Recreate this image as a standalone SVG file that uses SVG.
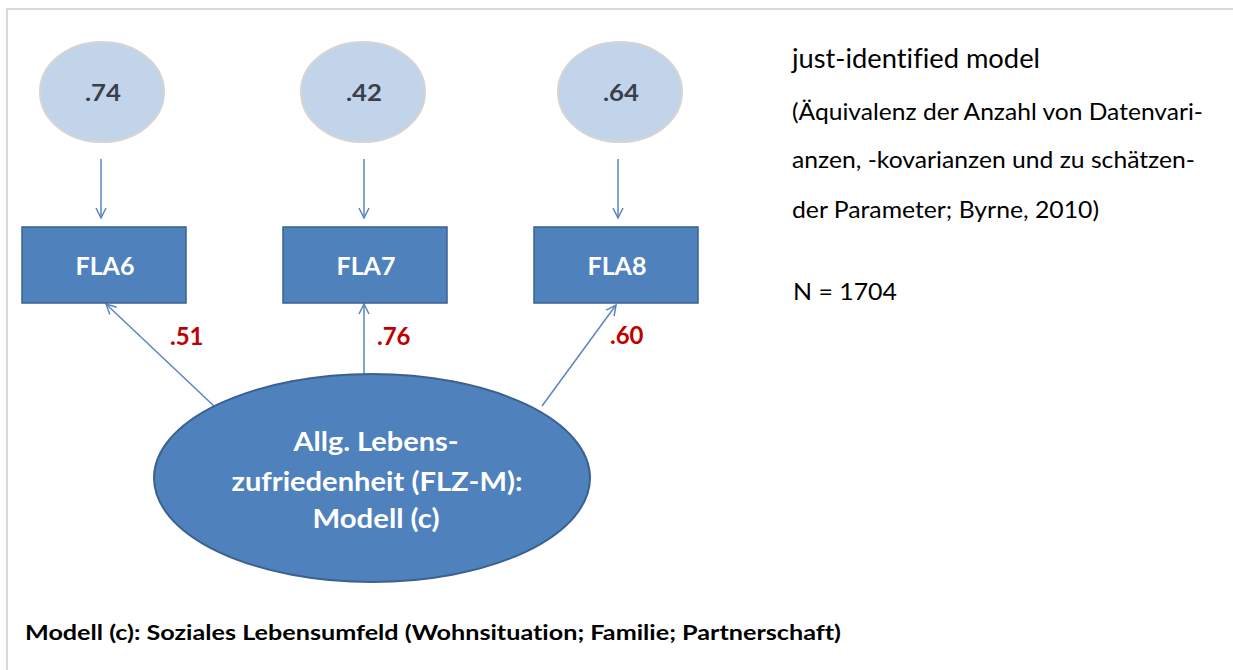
<svg xmlns="http://www.w3.org/2000/svg" width="1233" height="670" viewBox="0 0 1233 670">
  <style>
    text { font-variant-ligatures: none; }
    .err { fill: #c2d4ea; stroke: #d4d4d4; stroke-width: 2; }
    .errtxt { font-family: Lato, "Open Sans", sans-serif; font-weight: bold; font-size: 23px; fill: #3a3f4a; text-anchor: middle; }
    .box { fill: #4f81bd; stroke: #3a6190; stroke-width: 1.5; }
    .boxtxt { font-family: Lato, "Open Sans", sans-serif; font-weight: bold; font-size: 25px; fill: #ffffff; text-anchor: middle; }
    .latent { fill: #4f81bd; stroke: #3a6190; stroke-width: 2; }
    .lattxt { font-family: Lato, "Open Sans", sans-serif; font-weight: bold; font-size: 26px; fill: #ffffff; text-anchor: middle; }
    .edge { stroke: #5a86bf; stroke-width: 1.5; fill: none; marker-end: url(#chev); }
    .load { font-family: Lato, "Open Sans", sans-serif; font-weight: bold; font-size: 24px; fill: #c00000; }
    .note { font-family: Lato, "Open Sans", sans-serif; font-size: 24px; fill: #000000; }
    .note1 { font-family: Lato, "Open Sans", sans-serif; font-size: 26px; fill: #000000; }
    .caption { font-family: Lato, "Open Sans", sans-serif; font-weight: bold; font-size: 21px; fill: #000000; }
  </style>
  <defs>
    <marker id="chev" viewBox="0 0 12 12" refX="11" refY="6" markerWidth="12" markerHeight="12" markerUnits="userSpaceOnUse" orient="auto">
      <path d="M1,1 L11,6 L1,11" fill="none" stroke="#5a86bf" stroke-width="1.5"/>
    </marker>
  </defs>

  <rect width="1233" height="670" fill="#ffffff"/>
  <!-- frame -->
  <path d="M7,672 L7,9 L1240,9" fill="none" stroke="#d9d9d9" stroke-width="2"/>

  <!-- connectors -->
  <g id="connectors">
    <line class="edge" x1="101" y1="159" x2="101" y2="218"/>
    <line class="edge" x1="364" y1="159" x2="364" y2="218"/>
    <line class="edge" x1="618" y1="159" x2="618" y2="218"/>
    <line class="edge" x1="215" y1="407" x2="106" y2="304"/>
    <line class="edge" x1="364" y1="374" x2="364" y2="304"/>
    <line class="edge" x1="542" y1="406" x2="616" y2="305"/>
  </g>

  <!-- residual terms -->
  <g id="e6">
    <ellipse class="err" cx="102" cy="92" rx="62" ry="50"/>
    <text class="errtxt" x="103" y="101" textLength="36" lengthAdjust="spacingAndGlyphs">.74</text>
  </g>
  <g id="e7">
    <ellipse class="err" cx="363" cy="92" rx="62" ry="50"/>
    <text class="errtxt" x="364" y="101" textLength="36" lengthAdjust="spacingAndGlyphs">.42</text>
  </g>
  <g id="e8">
    <ellipse class="err" cx="620" cy="92" rx="62" ry="50"/>
    <text class="errtxt" x="621" y="101" textLength="36" lengthAdjust="spacingAndGlyphs">.64</text>
  </g>

  <!-- observed indicators -->
  <g id="FLA6">
    <rect class="box" x="22" y="227" width="164" height="76"/>
    <text class="boxtxt" x="105" y="275">FLA6</text>
  </g>
  <g id="FLA7">
    <rect class="box" x="283" y="227" width="164" height="76"/>
    <text class="boxtxt" x="366" y="275">FLA7</text>
  </g>
  <g id="FLA8">
    <rect class="box" x="534" y="227" width="164" height="76"/>
    <text class="boxtxt" x="617" y="275">FLA8</text>
  </g>

  <!-- factor loadings -->
  <g id="loadings">
    <text class="load" x="170" y="345">.51</text>
    <text class="load" x="377" y="345">.76</text>
    <text class="load" x="610" y="344">.60</text>
  </g>

  <!-- latent factor -->
  <g id="FLZ">
    <ellipse class="latent" cx="372" cy="478" rx="218" ry="104"/>
    <text class="lattxt" x="376" y="451" textLength="165" lengthAdjust="spacingAndGlyphs">Allg. Lebens-</text>
    <text class="lattxt" x="377" y="491" textLength="291" lengthAdjust="spacingAndGlyphs">zufriedenheit (FLZ-M):</text>
    <text class="lattxt" x="376" y="528" textLength="127" lengthAdjust="spacingAndGlyphs">Modell (c)</text>
  </g>

  <!-- side notes -->
  <g id="notes">
    <text class="note1" x="792" y="68" textLength="248" lengthAdjust="spacingAndGlyphs">just-identified model</text>
    <text class="note" x="792" y="120" textLength="411" lengthAdjust="spacingAndGlyphs">(Äquivalenz der Anzahl von Datenvari-</text>
    <text class="note" x="792" y="168" textLength="403" lengthAdjust="spacingAndGlyphs">anzen, -kovarianzen und zu schätzen-</text>
    <text class="note" x="792" y="218" textLength="307" lengthAdjust="spacingAndGlyphs">der Parameter; Byrne, 2010)</text>
    <text class="note" x="793" y="300" textLength="104" lengthAdjust="spacingAndGlyphs">N = 1704</text>
  </g>

  <text class="caption" x="25" y="640" textLength="816" lengthAdjust="spacingAndGlyphs">Modell (c): Soziales Lebensumfeld (Wohnsituation; Familie; Partnerschaft)</text>
</svg>
